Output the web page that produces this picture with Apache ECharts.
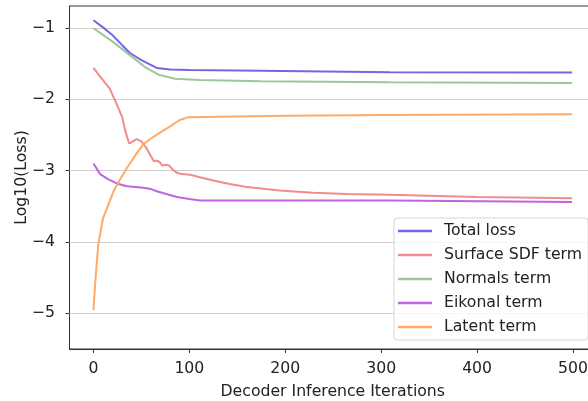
<!DOCTYPE html>
<html><head><meta charset="utf-8">
<script src="https://cdn.jsdelivr.net/npm/echarts@6/dist/echarts.min.js"></script>
<style>html,body{margin:0;padding:0;background:#fff}#c{width:588px;height:401px}</style>
</head><body><div id="c"></div>
<script>
const seriesNames = ['Total loss','Surface SDF term','Normals term','Eikonal term','Latent term'];
const xTicks = [0,100,200,300,400,500];
const yTicks = [-5,-4,-3,-2,-1];
const totalLoss = [[0,-0.89],[10,-0.99],[20,-1.1],[30,-1.24],[38,-1.35],[50,-1.45],[66,-1.56],[80,-1.58],[100,-1.59],[174,-1.60],[309,-1.62],[499,-1.625]];
const surfaceSdf = [[0,-1.56],[7,-1.68],[17,-1.85],[24,-2.06],[30,-2.25],[33,-2.43],[36.5,-2.59],[37.5,-2.62],[41,-2.59],[45,-2.56],[50,-2.59],[55,-2.68],[60,-2.80],[63,-2.87],[66,-2.86],[69,-2.88],[72,-2.93],[76,-2.92],[79,-2.93],[83,-2.99],[87,-3.03],[92,-3.05],[101,-3.06],[110,-3.09],[125,-3.14],[142,-3.19],[160,-3.23],[194,-3.28],[229,-3.31],[264,-3.33],[309,-3.34],[400,-3.37],[499,-3.39]];
const normals = [[0,-1.0],[20,-1.19],[38,-1.38],[55,-1.56],[69,-1.66],[85,-1.71],[111,-1.73],[174,-1.745],[309,-1.76],[499,-1.77]];
const eikonal = [[0,-2.9],[7,-3.05],[15,-3.12],[26,-3.19],[35,-3.22],[52,-3.24],[60,-3.26],[66,-3.29],[76,-3.33],[87,-3.37],[100,-3.40],[111,-3.42],[200,-3.42],[309,-3.42],[499,-3.44]];
const latent = [[0,-4.96],[2,-4.55],[5,-4.04],[10,-3.67],[17,-3.43],[21,-3.29],[28,-3.12],[35,-2.96],[44,-2.78],[52,-2.63],[60,-2.55],[69,-2.47],[80,-2.38],[90,-2.29],[99,-2.25],[101,-2.24],[200,-2.23],[309,-2.22],[499,-2.21]];

const colors = ['#7466e3','#f28b8b','#99c899','#c064e0','#ffaa66'];
const allData = [totalLoss, surfaceSdf, normals, eikonal, latent];
const font = 'DejaVu Sans';
const fs = 15.7;
const minus = v => String(v).replace('-', '\u2212');

const chart = echarts.init(document.getElementById('c'), null, {renderer:'canvas'});
chart.setOption({
  animation:false,
  backgroundColor:'#fff',
  textStyle:{fontFamily:font},
  grid:{left:69.5, top:6, width:526.5, height:343, outerBoundsMode:'none', containLabel:false,
    show:true, borderColor:'#333', borderWidth:1, backgroundColor:'transparent'},
  legend:{
    orient:'vertical', left:394, top:218,
    data:seriesNames,
    icon:'rect', itemWidth:34, itemHeight:2.5, itemGap:6,
    padding:[4,6,4,4],
    backgroundColor:'rgba(255,255,255,0.8)', borderColor:'#d6d6d6', borderWidth:1, borderRadius:3,
    textStyle:{fontFamily:font, fontSize:fs, color:'#222', lineHeight:18, padding:[0,0,0,7]}
  },
  xAxis:{
    type:'value', min:-24.95, max:523.95,
    name:'Decoder Inference Iterations', nameLocation:'middle', nameGap:35, nameMoveOverlap:false,
    nameTextStyle:{fontFamily:font, fontSize:fs, color:'#222'},
    axisLine:{show:true, onZero:false, lineStyle:{color:'#333', width:1}},
    axisTick:{show:true, customValues:xTicks, length:4, lineStyle:{color:'#333'}},
    axisLabel:{customValues:xTicks, fontFamily:font, fontSize:fs, color:'#222', margin:12},
    splitLine:{show:false}
  },
  yAxis:{
    type:'value', min:-5.505, max:-0.69,
    name:'Log10(Loss)', nameLocation:'middle', nameGap:40, nameMoveOverlap:false,
    nameTextStyle:{fontFamily:font, fontSize:fs, color:'#222'},
    axisLine:{show:true, onZero:false, lineStyle:{color:'#333', width:1}},
    axisTick:{show:true, customValues:yTicks, length:4, lineStyle:{color:'#333'}},
    axisLabel:{customValues:yTicks, fontFamily:font, fontSize:fs, color:'#222', margin:14.5, formatter:minus},
    splitLine:{show:false}
  },
  series: seriesNames.map((n,i)=>({
    name:n, type:'line', data:allData[i], showSymbol:false, symbol:'none',
    lineStyle:{color:colors[i], width:2}, itemStyle:{color:colors[i]},
    z: 3+i,
    markLine: i===0 ? {silent:true, symbol:'none', label:{show:false},
      lineStyle:{color:'#cfcfcf', width:1.2, type:'solid'}, z:1,
      data: yTicks.map(v=>({yAxis:v}))} : undefined
  }))
});
</script></body></html>
